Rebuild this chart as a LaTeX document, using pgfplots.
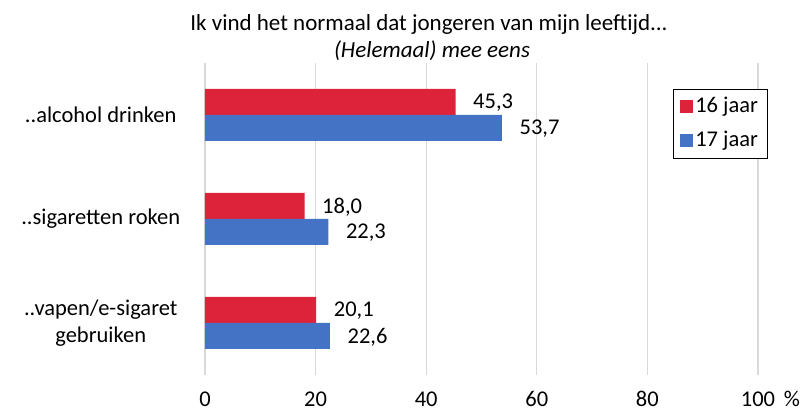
\documentclass[border=0pt]{standalone}
\usepackage{fontspec}
\setmainfont{Carlito}
\usepackage{pgfplots}
\pgfplotsset{compat=1.18}
\definecolor{cred}{HTML}{DD2339}
\definecolor{cblue}{HTML}{4472C4}
\definecolor{cgrid}{HTML}{D9D9D9}
\begin{document}
\fontsize{22.5}{27}\selectfont
\begin{tikzpicture}
\path[use as bounding box] (-205pt,-39pt) rectangle (604pt,375pt);
\begin{axis}[
  at={(0,0)}, anchor=south west,
  scale only axis, width=553pt, height=312pt,
  xmin=0, xmax=100, ymin=-0.5, ymax=2.5,
  xtick={0,20,40,60,80,100},
  ytick={0,1,2},
  yticklabels={{..vapen/e-sigaret\\gebruiken},{..sigaretten roken},{..alcohol drinken}},
  /pgf/number format/assume math mode=true,
  xmajorgrids, major grid style={cgrid, line width=1.2pt},
  axis line style={draw=none},
  tick style={draw=none},
  xticklabel style={anchor=base, inner ysep=0pt, yshift=-32pt, font=\fontsize{22.5}{27}\selectfont},
  yticklabel style={anchor=center, align=center, xshift=-100pt, font=\fontsize{22.5}{27}\selectfont},
  xbar, bar width=26pt,
  nodes near coords,
  nodes near coords style={anchor=west, xshift=10pt, yshift=-1pt, font=\fontsize{22.5}{27}\selectfont,
    /pgf/number format/.cd, fixed, fixed zerofill, precision=1, use comma},
  legend style={at={(rel axis cs:0.846,0.917)}, anchor=north west, draw=black, line width=1pt,
    inner xsep=7pt, inner ysep=6pt, row sep=11pt, legend cell align=left,
    font=\fontsize{22.5}{27}\selectfont},
  legend image code/.code={\fill[#1] (0pt,-6.5pt) rectangle (13pt,6.5pt);},
]
\addplot[fill=cred, draw=none, bar shift=13pt] coordinates {(20.1,0) (18.0,1) (45.3,2)};
\addlegendentry{16 jaar}
\addplot[fill=cblue, draw=none, bar shift=-13pt] coordinates {(22.6,0) (22.3,1) (53.7,2)};
\addlegendentry{17 jaar}
\end{axis}
\node[anchor=base, inner ysep=0pt] at (587pt,-32pt) {\%};
\node[anchor=base, font=\fontsize{23}{27}\selectfont] at (224pt,344pt) {Ik vind het normaal dat jongeren van mijn leeftijd...};
\node[anchor=base, font=\fontsize{23}{27}\selectfont] at (227pt,317pt) {\itshape (Helemaal) mee eens};
\end{tikzpicture}
\end{document}
